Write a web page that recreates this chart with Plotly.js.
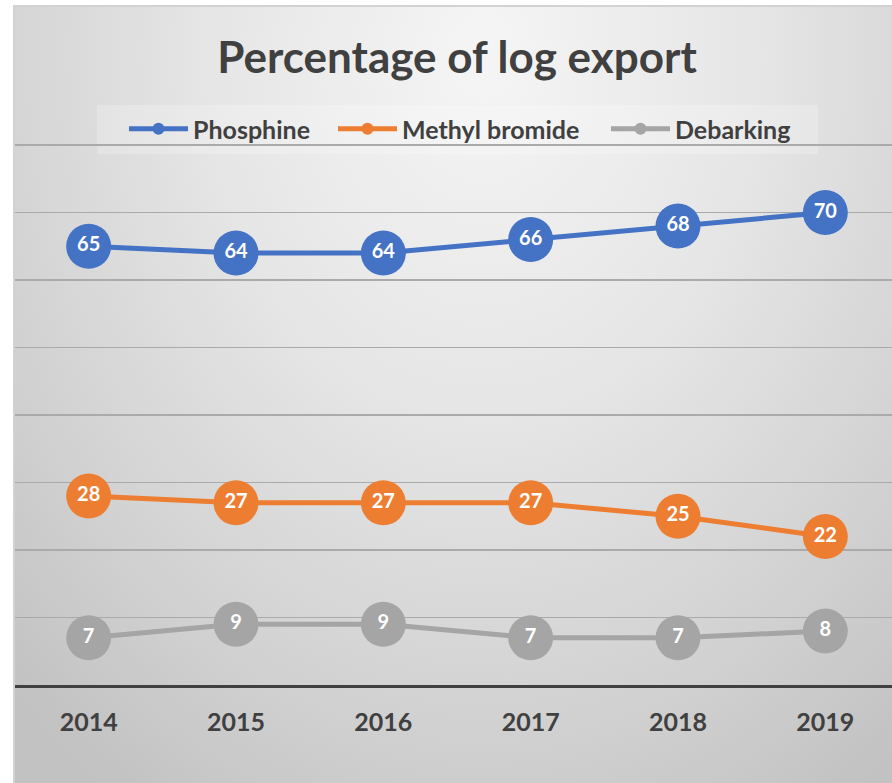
<!DOCTYPE html>
<html>
<head>
<meta charset="utf-8">
<script src="https://cdn.plot.ly/plotly-3.0.1.min.js"></script>
<style>
html, body { margin: 0; padding: 0; background: #ffffff; overflow: hidden; width: 892px; height: 783px; }
#frame { position: absolute; left: 13px; top: 5px; width: 900px; height: 800px;
  border-left: 2px solid #d2d2d2; border-top: 2px solid #d2d2d2;
  background: radial-gradient(ellipse 75% 110% at 52% 6%, #f5f5f5 0%, #e6e6e6 40%, #d2d2d2 75%, #c2c2c2 100%); }
#chart { position: absolute; left: 0; top: 0; width: 905px; height: 783px; }
</style>
</head>
<body>
<div id="frame"></div>
<div id="chart"></div>
<script>
const years = ['2014', '2015', '2016', '2017', '2018', '2019'];
const phosphine = [65, 64, 64, 66, 68, 70];
const methylBromide = [28, 27, 27, 27, 25, 22];
const debarking = [7, 9, 9, 7, 7, 8];
const seriesNames = ['Phosphine', 'Methyl bromide', 'Debarking'];
const seriesColors = ['#4472c4', '#ed7d31', '#a5a5a5'];
const seriesValues = [phosphine, methylBromide, debarking];
const legendIds = ['legend', 'legend2', 'legend3'];

const font = 'Lato, "Open Sans", "DejaVu Sans", sans-serif';

// plot area geometry (px) used to convert layout positions to paper fractions
const W = 905, H = 783, ML = 15, MR = 6, MT = 143, MB = 98;
const PW = W - ML - MR, PH = H - MT - MB;
const px2x = p => (p - ML) / PW;
const py2y = p => (H - MB - p) / PH;

const lineTraces = seriesValues.map((vals, i) => ({
  type: 'scatter', mode: 'lines+markers', name: seriesNames[i],
  legend: legendIds[i],
  x: years, y: vals,
  line: { color: seriesColors[i], width: 5 },
  marker: { color: seriesColors[i], size: 45, line: { width: 0 } },
  hoverinfo: 'skip'
}));
const textTraces = seriesValues.map((vals, i) => ({
  type: 'scatter', mode: 'text', showlegend: false,
  x: years, y: vals, text: vals.map(String),
  textposition: 'middle center',
  textfont: { family: font, size: 20, color: '#ffffff', weight: 'bold' },
  hoverinfo: 'skip'
}));

const legendStarts = [124, 333, 606];
function legendAt(px) {
  return {
    orientation: 'h', x: px2x(px), xref: 'paper', xanchor: 'left',
    y: 1 - 129 / H, yref: 'container', yanchor: 'middle',
    bgcolor: 'rgba(0,0,0,0)',
    font: { family: font, size: 25, color: '#404040', weight: 'bold' },
    itemsizing: 'constant', itemwidth: 59
  };
}

const layout = {
  width: W, height: H,
  margin: { l: ML, r: MR, t: MT, b: MB, autoexpand: false },
  paper_bgcolor: 'rgba(0,0,0,0)', plot_bgcolor: 'rgba(0,0,0,0)',
  font: { family: font, color: '#404040' },
  title: {
    text: 'Percentage of log export',
    font: { family: font, size: 44, color: '#404040', weight: 'bold' },
    x: 0.5, xref: 'paper', xanchor: 'center',
    y: 1 - 58 / H, yref: 'container', yanchor: 'middle'
  },
  showlegend: true,
  legend: legendAt(legendStarts[0]),
  legend2: legendAt(legendStarts[1]),
  legend3: legendAt(legendStarts[2]),
  shapes: [{
    type: 'rect', xref: 'paper', yref: 'paper', layer: 'below',
    x0: px2x(97), x1: px2x(818), y0: py2y(154), y1: py2y(105),
    fillcolor: 'rgba(255,255,255,0.22)', line: { width: 0 }
  }],
  xaxis: {
    type: 'category', range: [-0.5, 5.5], fixedrange: true,
    showgrid: false, zeroline: false,
    showline: true, linecolor: '#404040', linewidth: 3,
    ticks: '', ticklabelstandoff: 13,
    tickfont: { family: font, size: 25, color: '#404040', weight: 'bold' }
  },
  yaxis: {
    range: [0, 80.3], dtick: 10, fixedrange: true,
    showgrid: true, gridcolor: '#aaaaaa', gridwidth: 1.5,
    zeroline: false, showticklabels: false, ticks: '', showline: false
  }
};

Plotly.newPlot('chart', lineTraces.concat(textTraces), layout, { displayModeBar: false, staticPlot: true });
</script>
</body>
</html>
